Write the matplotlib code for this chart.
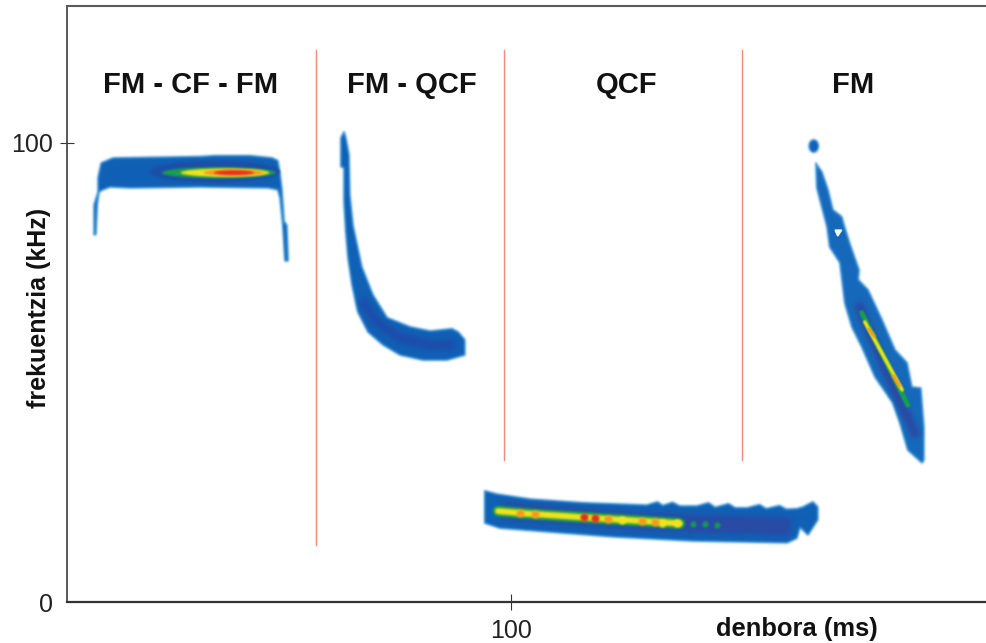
import numpy as np
import matplotlib
matplotlib.use("Agg")
import matplotlib.pyplot as plt
from matplotlib.patches import Ellipse

plt.rcParams['font.family'] = ['Liberation Sans', 'DejaVu Sans']

# ---------- section labels and separators ----------
section_names = ["FM - CF - FM", "FM - QCF", "QCF", "FM"]
section_t = [27.9, 77.7, 126.1, 177.0]
section_f = 112.6
sep_t = [56.1, 98.4, 152.0]
sep_f_top = [120.3, 120.3, 120.3]
sep_f_bottom = [12.4, 30.9, 30.9]

# ---------- call outlines (time ms, frequency kHz) ----------
cf_t = [6.1, 6.1, 7.0, 7.0, 7.7, 10.4, 30.0, 33.3, 41.2, 46.2, 47.5, 48.0, 48.4, 48.9, 49.5, 49.8,
        49.1, 48.6, 48.0, 47.5, 45.3, 30.0, 14.2, 9.7, 8.1, 7.2, 6.8, 6.5]
cf_f = [80.0, 86.5, 89.3, 92.4, 95.6, 96.7, 97.0, 97.2, 97.2, 96.7, 96.1, 93.0, 89.8, 82.8, 82.1, 74.3,
        74.3, 82.1, 88.0, 89.8, 90.2, 90.4, 90.2, 90.4, 89.8, 89.3, 86.5, 80.0]

qcf1_t = [62.4, 61.7, 61.7, 62.4, 62.4, 62.8, 63.3, 64.2, 65.5, 67.8, 71.2, 75.0, 80.2, 85.6, 89.6, 89.6,
          88.1, 86.7, 81.8, 77.3, 72.1, 68.9, 66.4, 64.4, 63.7, 63.5, 62.8]
qcf1_f = [102.4, 101.1, 94.8, 94.6, 87.1, 80.6, 74.9, 69.1, 63.2, 58.8, 56.0, 53.8, 52.7, 52.7, 53.8, 57.1,
          58.8, 59.5, 59.0, 59.9, 61.9, 66.9, 73.0, 82.1, 88.7, 97.4, 101.1]

qcf2_t = [94.1, 96.8, 104.3, 116.2, 130.6, 133.0, 134.2, 136.4, 138.0, 141.9, 144.5, 146.0, 149.0, 150.5,
          153.2, 156.0, 157.5, 160.5, 162.0, 164.4, 165.8, 168.0, 169.1, 169.1, 166.9, 165.1, 164.4,
          162.2, 141.0, 123.0, 108.1, 97.5, 94.1]
qcf2_f = [24.2, 23.5, 22.4, 21.6, 21.1, 21.8, 21.0, 21.7, 20.9, 20.9, 21.6, 20.6, 21.4, 20.5,
          20.5, 21.2, 20.3, 21.0, 20.2, 20.3, 20.7, 21.8, 20.7, 17.9, 14.6, 16.3, 13.9,
          12.9, 13.3, 14.2, 15.3, 16.1, 17.2]

fm_t = [168.7, 168.9, 170.0, 171.2, 171.8, 174.1, 175.2, 176.8, 179.0, 182.0, 186.0, 187.6, 189.4, 192.6,
        193.0, 193.0, 192.3, 190.3, 189.2, 186.5, 183.6, 180.4, 178.2, 178.4, 176.4, 175.2, 174.5, 172.5, 171.4, 170.0, 168.9]
fm_f = [95.6, 90.2, 86.1, 81.7, 77.3, 73.9, 65.1, 59.9, 55.6, 49.0, 43.4, 39.0, 33.1, 30.3,
        30.9, 38.1, 46.6, 46.8, 52.1, 54.9, 61.4, 68.0, 70.2, 72.3, 77.8, 81.5, 83.9, 85.4, 89.8, 93.7, 95.2]
fm_hole_t = [173.0, 174.5, 173.6]
fm_hole_f = [81.0, 81.0, 79.7]
fm_head_t, fm_head_f = 168.2, 99.3
fm_head_w, fm_head_h = 2.1, 2.7

# ---------- energy inside the calls ----------
cf_core_t = [33.3, 34.2, 35.6, 37.5, 37.6]
cf_core_f = [93.7, 93.5, 93.5, 93.5, 93.5]
cf_core_w = [29.3, 25.6, 20.0, 13.5, 9.0]
cf_core_h = [4.8, 2.4, 1.8, 1.4, 1.0]

qcf1_dark_t = [66.5, 68.0, 70.5, 75.0, 81.8, 87.5]
qcf1_dark_f = [66.0, 63.2, 60.4, 57.5, 56.0, 56.0]

qcf2_dark_t = [98.0, 131.3, 163.0]
qcf2_dark_f = [19.8, 17.4, 16.4]
qcf2_ridge_t = [97.1, 104.3, 115.5, 120.0, 133.6, 138.0]
qcf2_ridge_f = [19.8, 19.2, 18.5, 18.2, 17.4, 17.1]
qcf2_orange_t = [102.0, 105.4, 121.8, 129.5, 132.4]
qcf2_orange_f = [19.4, 19.2, 18.0, 17.6, 17.4]
qcf2_red_t = [116.4, 118.9]
qcf2_red_f = [18.5, 18.2]
qcf2_yellow_t = [125.0, 134.0, 137.4]
qcf2_yellow_f = [17.8, 17.3, 17.1]
qcf2_green_t = [141.0, 143.7, 146.4]
qcf2_green_f = [17.0, 16.9, 16.8]

fm_dark_t = [178.2, 184.4, 191.4]
fm_dark_f = [65.0, 50.5, 36.0]
fm_green_t = [179.0, 189.4]
fm_green_f = [63.0, 42.9]
fm_yellow_t = [179.7, 188.1]
fm_yellow_f = [61.0, 46.2]
fm_orange1_t = [180.4, 182.0]
fm_orange1_f = [59.7, 57.7]
fm_orange2_t = [186.0, 187.6]
fm_orange2_f = [49.5, 46.8]

BLUE = "#0f5fb5"
EDGE = "#2f8dd3"
DARK = "#2a4aa5"
GREEN = "#17a050"
YELLOW = "#f4e41c"
ORANGE = "#f59a1e"
RED = "#e62c20"
SEP = "#f2897a"
AXIS = "#4a4a4a"


def blur(img, dpi, sigma=1.1):
    pad = 8
    a = np.pad(img, ((pad, pad), (pad, pad), (0, 0)))
    xs = np.arange(-8, 9)
    k = np.exp(-0.5 * (xs / sigma) ** 2)
    k /= k.sum()
    pm = a.copy()
    pm[..., :3] *= pm[..., 3:4]
    for ax_i in (0, 1):
        pm = np.apply_along_axis(lambda v: np.convolve(v, k, mode="same"), ax_i, pm)
    alpha = np.clip(pm[..., 3:4], 1e-6, 1)
    out = pm.copy()
    out[..., :3] = np.clip(pm[..., :3] / alpha, 0, 1)
    return out, -pad, -pad


fig = plt.figure(figsize=(9.86, 6.43), dpi=100)
ax = fig.add_axes([67 / 986, 1 - 602 / 643, 919 / 986, 596 / 643])
ax.set_xlim(0, 207)
ax.set_ylim(0, 129.8)


def outline(t, f, color=BLUE, z=2):
    p = ax.fill(t, f, facecolor=color, edgecolor=EDGE, linewidth=1.2, zorder=z, joinstyle="round")[0]
    p.set_agg_filter(blur)
    return p


def ridge(t, f, color, width_px, z, style="round", sigma=None, alpha=1.0):
    ln = ax.plot(t, f, color=color, lw=width_px * 0.72, solid_capstyle=style, alpha=alpha,
                 solid_joinstyle="round", zorder=z)[0]
    ln.set_agg_filter(blur if sigma is None else (lambda im, dpi: blur(im, dpi, sigma)))
    return ln


def spots(t, f, color, size_px, z):
    s = ax.scatter(t, f, s=(size_px * 0.72) ** 2, color=color, linewidths=0, zorder=z)
    s.set_agg_filter(lambda im, dpi: blur(im, dpi, 0.8))
    return s


# separators
for t, top, bottom in zip(sep_t, sep_f_top, sep_f_bottom):
    ax.plot([t, t], [bottom, top], color=SEP, lw=1.0, zorder=1)

# base shapes
outline(cf_t, cf_f)
outline(qcf1_t, qcf1_f)
outline(qcf2_t, qcf2_f)
outline(fm_t, fm_f, color="#1568ba")
head = Ellipse((fm_head_t, fm_head_f), fm_head_w, fm_head_h, facecolor=BLUE, edgecolor=EDGE, lw=1, zorder=2)
head.set_agg_filter(blur)
ax.add_patch(head)
ax.fill(fm_hole_t, fm_hole_f, color="white", zorder=3)

# FM-CF-FM core
for c_t, c_f, w, h, col, z in zip(cf_core_t, cf_core_f, cf_core_w, cf_core_h,
                                  ["#1d4fa8", GREEN, YELLOW, ORANGE, RED], range(3, 8)):
    e = Ellipse((c_t, c_f), w, h, color=col, zorder=z, lw=0)
    e.set_agg_filter(blur)
    ax.add_patch(e)

# FM-QCF core
ridge(qcf1_dark_t, qcf1_dark_f, "#1f4caa", 9, 3, style="butt", sigma=3.0)

# QCF core
ridge(qcf2_dark_t, qcf2_dark_f, DARK, 17, 3, style="butt", sigma=3.0)
ridge(qcf2_ridge_t, qcf2_ridge_f, GREEN, 11, 4)
ridge(qcf2_ridge_t, qcf2_ridge_f, YELLOW, 6, 5)
spots(qcf2_green_t, qcf2_green_f, GREEN, 6, 4)
spots(qcf2_yellow_t, qcf2_yellow_f, YELLOW, 8, 5)
spots(qcf2_orange_t, qcf2_orange_f, ORANGE, 8, 6)
spots(qcf2_red_t, qcf2_red_f, RED, 8, 7)

# FM core
ridge(fm_dark_t, fm_dark_f, DARK, 9, 3, style="butt", sigma=2.5)
ridge(fm_green_t, fm_green_f, GREEN, 5, 4, style="round", sigma=0.8)
ridge(fm_yellow_t, fm_yellow_f, YELLOW, 3.5, 5, style="round", sigma=0.8)
ridge(fm_orange1_t, fm_orange1_f, ORANGE, 3, 6, style="butt", sigma=0.8)
ridge(fm_orange2_t, fm_orange2_f, ORANGE, 3, 6, style="butt", sigma=0.8)

# axes
ax.spines["right"].set_visible(False)
ax.spines["top"].set_color("#5a5a5a")
ax.spines["top"].set_linewidth(1.5)
ax.spines["left"].set_color(AXIS)
ax.spines["left"].set_linewidth(1.3)
ax.spines["bottom"].set_color("#333333")
ax.spines["bottom"].set_linewidth(1.6)

ax.set_xticks([100])
ax.set_yticks([0, 100])
ax.tick_params(axis="x", direction="inout", length=11, width=0.8, color="#333333", labelsize=18,
               labelcolor="#222222", pad=6.5)
ax.tick_params(axis="y", direction="inout", length=10, width=0.8, color="#333333", labelsize=18,
               labelcolor="#222222", pad=5)
ax.yaxis.get_major_ticks()[0].tick1line.set_visible(False)

for name, t in zip(section_names, section_t):
    ax.text(t, section_f, name, ha="center", va="center", fontsize=21, fontweight="bold", color="#111111")

ax.text(-6.3, 64, "frekuentzia (kHz)", rotation=90, ha="center", va="center",
        fontsize=18, fontweight="bold", color="#111111")
ax.text(164.4, -5.8, "denbora (ms)", ha="center", va="center",
        fontsize=18.4, fontweight="bold", color="#111111")

fig.savefig("out.png", dpi=100)
